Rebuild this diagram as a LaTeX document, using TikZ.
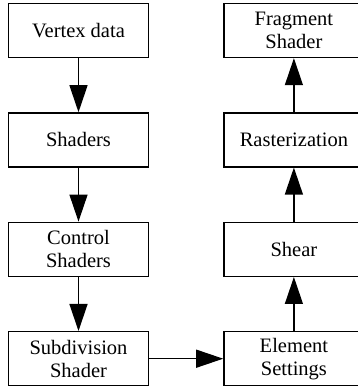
\documentclass[tikz,border=0pt]{standalone}
\usepackage{fontspec}
\setmainfont{Liberation Serif}
\usetikzlibrary{positioning,arrows.meta}

\begin{document}
\begin{tikzpicture}[x=1pt,y=1pt,
    stage/.style={draw,line width=1.4pt,minimum width=140pt,minimum height=54pt,
      align=center,inner sep=0pt,font=\rmfamily\fontsize{20.5}{23}\selectfont},
    flow/.style={line width=1.3pt,-{Triangle[length=27pt,width=18pt]}},
    node distance=54pt and 74pt]
    \useasboundingbox (0,0) rectangle (357,389);
    % Left column, going down
    \node[stage] (vertex) at (78.5,358.5) {Vertex data};
    \node[stage,below=of vertex] (shaders) {Shaders};
    \node[stage,below=of shaders] (control) {Control\\Shaders};
    \node[stage,below=of control] (subdiv) {Subdivision\\Shader};
    % Right column, going up
    \node[stage,right=of subdiv] (element) {Element\\Settings};
    \node[stage,above=of element] (shear) {Shear};
    \node[stage,above=of shear] (raster) {Rasterization};
    \node[stage,above=of raster] (fragment) {Fragment\\Shader};
    % Arrows
    \draw[flow] (vertex) -- (shaders);
    \draw[flow] (shaders) -- (control);
    \draw[flow] (control) -- (subdiv);
    \draw[flow] (subdiv) -- (element);
    \draw[flow] (element) -- (shear);
    \draw[flow] (shear) -- (raster);
    \draw[flow] (raster) -- (fragment);
\end{tikzpicture}
\end{document}
